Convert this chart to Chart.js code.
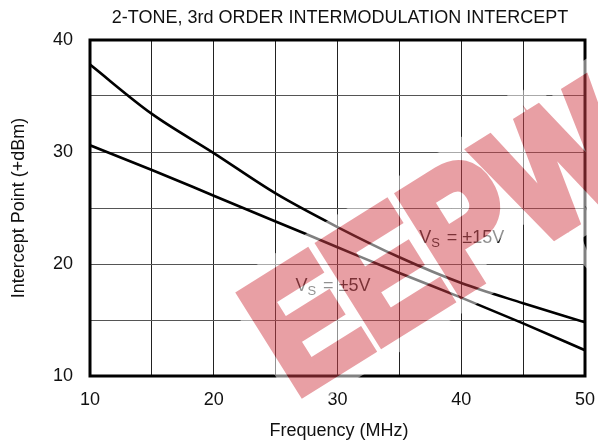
<!DOCTYPE html>
<html>
<head>
<meta charset="utf-8">
<script src="https://cdn.jsdelivr.net/npm/chart.js@4.4.1/dist/chart.umd.min.js"></script>
<style>
  html, body { margin: 0; padding: 0; background: #fff; }
  #wrap { width: 598px; height: 443px; position: relative; }
</style>
</head>
<body>
<div id="wrap"><canvas id="imdChart" width="598" height="443"></canvas></div>
<script>
// frequency points (MHz)
const freqs = [10, 15, 20, 25, 30, 35, 40, 45, 50];
// intercept point (+dBm)
const vs15 = [37.8, 33.4, 29.9, 26.3, 23.3, 20.6, 18.3, 16.5, 14.8];
const vs5  = [30.6, 28.4, 26.1, 23.8, 21.5, 19.2, 17.0, 14.7, 12.3];
// labelled ticks
const xTicks = [10, 20, 30, 40, 50];
const yTicks = [10, 20, 30, 40];

const FONT = '"Liberation Sans", Arial, Helvetica, sans-serif';

function toPoints(ys) {
    return freqs.map((f, i) => ({ x: f, y: ys[i] }));
}

// watermark drawn opaque on its own canvas, then laid over with alpha
function makeWatermark(w, h) {
    const c = document.createElement('canvas');
    c.width = w; c.height = h;
    const g = c.getContext('2d');
    g.translate(295, 396);
    g.rotate(-32 * Math.PI / 180);
    g.scale(0.85, 1);
    g.font = 'bold 165px ' + FONT;
    g.textAlign = 'left';
    g.textBaseline = 'alphabetic';
    g.lineJoin = 'miter';
    g.strokeStyle = '#fff';
    g.lineWidth = 36;
    g.strokeText('EEPW', 0, 0);
    g.strokeStyle = 'rgb(209,65,75)';
    g.fillStyle = 'rgb(209,65,75)';
    g.lineWidth = 12;
    g.strokeText('EEPW', 0, 0);
    g.fillText('EEPW', 0, 0);
    return c;
}

// titles, curve labels, frame and the watermark
const decorPlugin = {
    id: 'decor',
    afterDraw(chart) {
        const ctx = chart.ctx;
        const a = chart.chartArea;
        const xs = chart.scales.x, ys = chart.scales.y;
        ctx.save();

        // frame
        ctx.strokeStyle = '#000';
        ctx.lineWidth = 3;
        ctx.strokeRect(a.left, a.top, a.right - a.left, a.bottom - a.top);

        ctx.fillStyle = '#111';
        ctx.textBaseline = 'middle';
        ctx.textAlign = 'center';
        ctx.font = '18px ' + FONT;
        ctx.fillText('2-TONE, 3rd ORDER INTERMODULATION INTERCEPT', 340, 18);
        ctx.fillText('Frequency (MHz)', 339, 431);

        ctx.save();
        ctx.translate(19, 208);
        ctx.rotate(-Math.PI / 2);
        ctx.fillText('Intercept Point (+dBm)', 0, 0);
        ctx.restore();

        // curve labels with subscript S
        function vsLabel(x, y, rest) {
            ctx.textAlign = 'left';
            ctx.fillStyle = '#222';
            ctx.font = '18px ' + FONT;
            ctx.fillText('V', x, y);
            let w = ctx.measureText('V').width;
            ctx.font = '13px ' + FONT;
            ctx.fillText('S', x + w, y + 5);
            w += ctx.measureText('S').width;
            ctx.font = '18px ' + FONT;
            ctx.fillText(rest, x + w + 2, y);
        }
        vsLabel(xs.getPixelForValue(36.6), ys.getPixelForValue(22.3), ' = \u00b115V');
        vsLabel(xs.getPixelForValue(26.6), ys.getPixelForValue(18.0), ' = \u00b15V');

        ctx.globalAlpha = 0.5;
        ctx.drawImage(makeWatermark(chart.width, chart.height), 0, 0);
        ctx.restore();
    }
};

function createChart() {
    const el = document.getElementById('imdChart');
    const chartCtx = el.getContext('2d');

    window.imdChartInstance = new Chart(chartCtx, {
        type: 'line',
        data: {
            datasets: [{
                label: 'VS = ±15V',
                data: toPoints(vs15),
                borderColor: '#000',
                borderWidth: 2.6,
                pointRadius: 0,
                cubicInterpolationMode: 'monotone',
                fill: false
            }, {
                label: 'VS = ±5V',
                data: toPoints(vs5),
                borderColor: '#000',
                borderWidth: 2.6,
                pointRadius: 0,
                cubicInterpolationMode: 'monotone',
                fill: false
            }]
        },
        options: {
            responsive: false,
            animation: false,
            layout: { padding: { left: 0, right: 13, top: 40, bottom: 0 } },
            plugins: {
                legend: { display: false },
                title: { display: false },
                tooltip: { enabled: false }
            },
            scales: {
                x: {
                    type: 'linear',
                    min: 10,
                    max: 50,
                    afterFit(scale) {
                        scale.height = 67;
                        scale.paddingLeft = 0;
                        scale.paddingRight = 0;
                    },
                    afterBuildTicks(scale) {
                        const t = [];
                        for (let v = 10; v <= 50; v += 5) t.push({ value: v });
                        scale.ticks = t;
                    },
                    border: { display: false },
                    grid: { color: '#222', lineWidth: 1, drawTicks: false },
                    ticks: {
                        autoSkip: false,
                        maxRotation: 0,
                        padding: 13,
                        color: '#111',
                        font: { family: FONT, size: 18 },
                        callback: v => xTicks.includes(v) ? String(v) : ''
                    }
                },
                y: {
                    type: 'linear',
                    min: 10,
                    max: 40,
                    afterFit(scale) {
                        scale.width = 90;
                        scale.paddingTop = 0;
                        scale.paddingBottom = 0;
                    },
                    afterBuildTicks(scale) {
                        const t = [];
                        for (let v = 10; v <= 40; v += 5) t.push({ value: v });
                        scale.ticks = t;
                    },
                    border: { display: false },
                    grid: { color: '#555', lineWidth: 1, drawTicks: false },
                    ticks: {
                        autoSkip: false,
                        padding: 17,
                        color: '#111',
                        font: { family: FONT, size: 18 },
                        callback: v => yTicks.includes(v) ? String(v) : ''
                    }
                }
            }
        },
        plugins: [decorPlugin]
    });
}

createChart();
</script>
</body>
</html>
